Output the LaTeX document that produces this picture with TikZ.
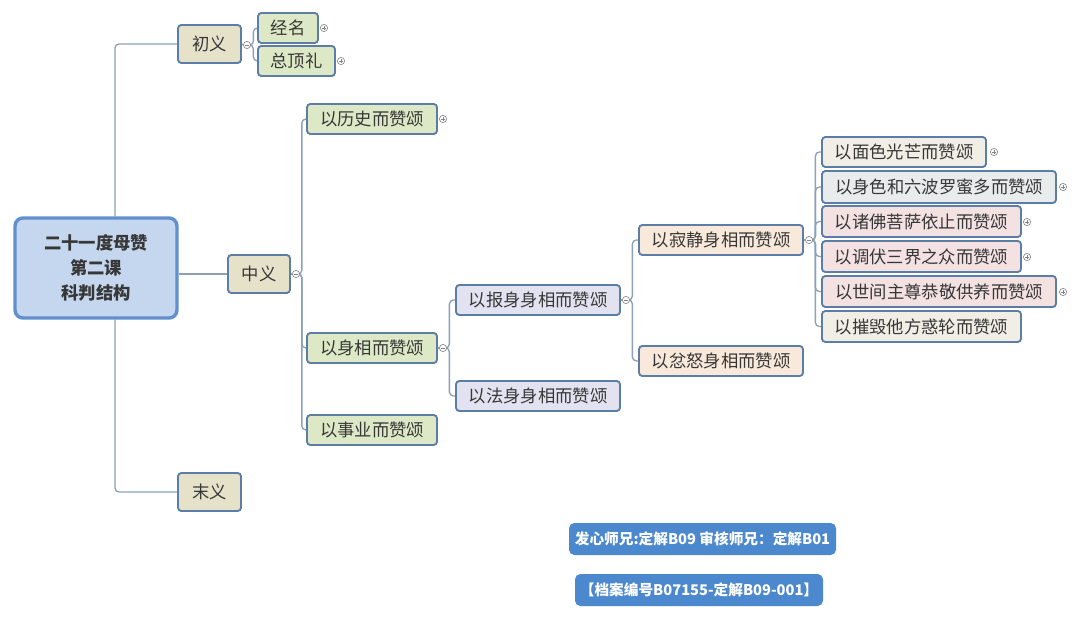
\documentclass[tikz,border=0pt]{standalone}
\usepackage{fontspec}
\setmainfont{Noto Sans CJK SC}
\usetikzlibrary{calc,backgrounds}
\definecolor{conn}{RGB}{140,160,185}
\definecolor{bord}{RGB}{92,125,165}
\definecolor{rootfill}{RGB}{197,215,238}
\definecolor{rootbord}{RGB}{98,144,206}
\definecolor{tanf}{RGB}{230,226,202}
\definecolor{greenf}{RGB}{221,233,198}
\definecolor{lavf}{RGB}{226,226,240}
\definecolor{peachf}{RGB}{249,233,219}
\definecolor{beigef}{RGB}{240,238,229}
\definecolor{grayf}{RGB}{232,236,236}
\definecolor{pinkf}{RGB}{244,225,225}
\definecolor{labf}{RGB}{76,136,206}
\definecolor{txt}{RGB}{55,55,55}
\definecolor{markc}{RGB}{130,130,130}
\newcommand\bx[7]{\node[#2, minimum width={(#5-#3)*0.75pt}, minimum height={(#6-#4)*0.75pt}] (#1) at ({(#3+#5)/2},{(#4+#6)/2}) {#7};}
\begin{document}
\begin{tikzpicture}[x=0.75pt,y=-0.75pt,
  box/.style={draw=bord, line width=1.4pt, rounded corners=2.5pt, inner sep=0pt, text=txt, font=\fontsize{13}{15}\selectfont},
  tan/.style={box, fill=tanf},
  green/.style={box, fill=greenf},
  lav/.style={box, fill=lavf},
  peach/.style={box, fill=peachf},
  beige/.style={box, fill=beigef},
  grayb/.style={box, fill=grayf},
  pink/.style={box, fill=pinkf},
  rootb/.style={draw=rootbord, fill=rootfill, line width=2.6pt, rounded corners=6pt, inner sep=0pt, text=txt, align=center, font=\fontsize{13}{18.5}\selectfont\bfseries},
  lab/.style={fill=labf, rounded corners=4pt, inner sep=0pt, text=white, font=\fontsize{11}{13}\selectfont\bfseries},
  conn/.style={draw=conn, line width=1pt, rounded corners=3pt},
  tog/.style={circle, draw=markc, line width=0.45pt, fill=white, minimum size=5.4pt, inner sep=0pt},
  minus/.style={tog, path picture={\draw[markc, line width=0.45pt] ([xshift=-1.5pt]path picture bounding box.center) -- ([xshift=1.5pt]path picture bounding box.center);}},
  plus/.style={tog, path picture={\draw[markc, line width=0.45pt] ([xshift=-1.5pt]path picture bounding box.center) -- ([xshift=1.5pt]path picture bounding box.center); \draw[markc, line width=0.45pt] ([yshift=-1.5pt]path picture bounding box.center) -- ([yshift=1.5pt]path picture bounding box.center);}}
]
\useasboundingbox (0,0) rectangle (1080,620);

% root
\bx{root}{rootb}{15}{218}{177}{318}{二十一度母赞\\第二课\\科判结构}

% level 1
\bx{cy}{tan}{178}{25}{241}{63}{初义}
\bx{zy}{tan}{228}{255}{290}{293}{中义}
\bx{my}{tan}{178}{473}{241}{511}{末义}

% level 2
\bx{jm}{green}{258}{13}{318}{43}{经名}
\bx{zdl}{green}{258}{46}{335}{76}{总顶礼}
\bx{ls}{green}{307}{104}{437}{134}{以历史而赞颂}
\bx{sx}{green}{307}{333}{437}{363}{以身相而赞颂}
\bx{sy}{green}{307}{415}{437}{445}{以事业而赞颂}

% level 3
\bx{bs}{lav}{456}{285}{620}{315}{以报身身相而赞颂}
\bx{fs}{lav}{456}{381}{620}{411}{以法身身相而赞颂}

% level 4
\bx{jj}{peach}{639}{225}{803}{255}{以寂静身相而赞颂}
\bx{fn}{peach}{639}{346}{803}{376}{以忿怒身相而赞颂}

% level 5
\bx{r1}{beige}{822}{137}{986}{167}{以面色光芒而赞颂}
\bx{r2}{grayb}{822}{171}{1056}{203}{以身色和六波罗蜜多而赞颂}
\bx{r3}{pink}{822}{206}{1021}{237}{以诸佛菩萨依止而赞颂}
\bx{r4}{pink}{822}{241}{1021}{272}{以调伏三界之众而赞颂}
\bx{r5}{pink}{822}{276}{1056}{307}{以世间主尊恭敬供养而赞颂}
\bx{r6}{beige}{822}{311}{1021}{342}{以摧毁他方惑轮而赞颂}

% collapse markers
\node[minus] (mcy) at (247,45) {};
\node[minus] (mzy) at (296,274) {};
\node[minus] (msx) at (443,348) {};
\node[minus] (mbs) at (626,300) {};
\node[minus] (mjj) at (809,240) {};

% expand markers
\node[plus] at (324,28) {};
\node[plus] at (341,61) {};
\node[plus] at (443,119) {};
\node[plus] at (994,152) {};
\node[plus] at (1063,187) {};
\node[plus] at (1027,222) {};
\node[plus] at (1027,257) {};
\node[plus] at (1063,292) {};

% labels
\bx{l1}{lab}{569}{523}{836}{555}{发心师兄:定解B09 审核师兄：定解B01}
\bx{l2}{lab}{575}{574}{823}{606}{【档案编号B07155-定解B09-001】}

\begin{scope}[on background layer]
\fill[white] (0,0) rectangle (1080,620);
\draw[conn] ($(root.north)+(19,0)$) |- (cy.west);
\draw[conn] ($(root.south)+(19,0)$) |- (my.west);
\draw[conn] (zy.west) -- (zy.west -| root.east);
\draw[conn] (cy.east) -- (mcy.west);
\foreach \c in {jm,zdl} \draw[conn] (mcy.east) -- ++(2.5,0) |- (\c.west);
\draw[conn] (zy.east) -- (mzy.west);
\foreach \c in {ls,sx,sy} \draw[conn] (mzy.east) -- ++(2,0) |- (\c.west);
\draw[conn] (sx.east) -- (msx.west);
\foreach \c in {bs,fs} \draw[conn] (msx.east) -- ++(2.5,0) |- (\c.west);
\draw[conn] (bs.east) -- (mbs.west);
\foreach \c in {jj,fn} \draw[conn] (mbs.east) -- ++(2.5,0) |- (\c.west);
\draw[conn] (jj.east) -- (mjj.west);
\foreach \c in {r1,r2,r3,r4,r5,r6} \draw[conn] (mjj.east) -- ++(2.5,0) |- (\c.west);
\end{scope}
\end{tikzpicture}
\end{document}
